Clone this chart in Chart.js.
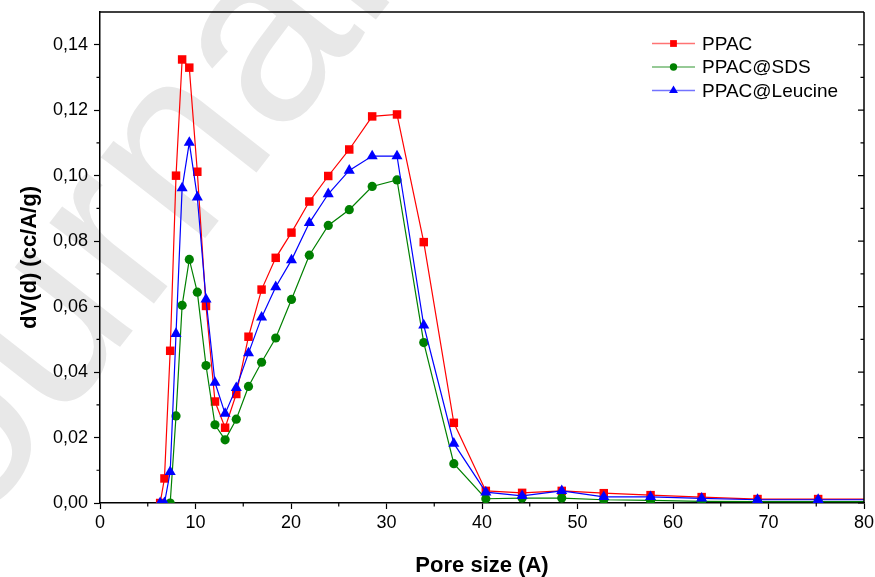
<!DOCTYPE html>
<html>
<head>
<meta charset="utf-8">
<script src="https://cdn.jsdelivr.net/npm/chart.js@4/dist/chart.umd.min.js"></script>
<style>
  html, body { margin: 0; padding: 0; background: #fff; }
  #wrap { width: 875px; height: 577px; }
</style>
</head>
<body>
<div id="wrap"><canvas id="c" width="875" height="577"></canvas></div>
<script>
// Pore size distribution (BJH-style dV(d) curves)
const poreSize = [6.3, 6.75, 7.35, 7.96, 8.6, 9.35, 10.19, 11.1, 12.04, 13.1, 14.27, 15.55, 16.92, 18.4, 20.05, 21.92, 23.9, 26.1, 28.5, 31.1, 33.9, 37.05, 40.4, 44.2, 48.35, 52.75, 57.65, 63.0, 68.85, 75.2, 82.0];
const ppac    = [0, 0.0075, 0.0465, 0.1, 0.1355, 0.133, 0.1012, 0.0602, 0.031, 0.023, 0.0333, 0.0508, 0.0652, 0.0749, 0.0826, 0.0921, 0.0999, 0.108, 0.1181, 0.1187, 0.0797, 0.0245, 0.0037, 0.0031, 0.0037, 0.003, 0.0024, 0.0018, 0.0012, 0.0012, 0.0012];
const ppacSDS = [null, null, 0, 0.0266, 0.0604, 0.0744, 0.0644, 0.042, 0.0239, 0.0193, 0.0256, 0.0356, 0.043, 0.0504, 0.0622, 0.0757, 0.0848, 0.0896, 0.0967, 0.0987, 0.049, 0.012, 0.0013, 0.0015, 0.0015, 0.001, 0.0008, 0.0005, 0.0004, 0.0004, 0.0004];
const ppacLeu = [0, 0, 0.0095, 0.0517, 0.0962, 0.1101, 0.0934, 0.0622, 0.0368, 0.0273, 0.0352, 0.0458, 0.0567, 0.066, 0.0742, 0.0856, 0.0944, 0.1016, 0.106, 0.106, 0.0543, 0.0182, 0.0033, 0.0022, 0.0037, 0.0019, 0.0019, 0.0014, 0.001, 0.001, 0.001];

const seriesNames = ['PPAC', 'PPAC@SDS', 'PPAC@Leucine'];
const xTicks = [0, 10, 20, 30, 40, 50, 60, 70, 80];
const yTicks = [0, 0.02, 0.04, 0.06, 0.08, 0.10, 0.12, 0.14];
const xMinor = [5, 15, 25, 35, 45, 55, 65, 75];
const yMinor = [0.01, 0.03, 0.05, 0.07, 0.09, 0.11, 0.13];
const xTitle = 'Pore size (A)';
const yTitle = 'dV(d) (cc/A/g)';
const watermarkText = 'Journal';

const FONT = 'Arial, "Liberation Sans", sans-serif';

function toPoints(ys) {
  const out = [];
  ys.forEach((y, i) => { if (y !== null) out.push({ x: poreSize[i], y: y }); });
  return out;
}

const styles = [
  { color: '#ff0000', legend: 'rgba(255,0,0,0.55)', point: 'rect', radius: 6 },
  { color: '#008000', legend: 'rgba(0,128,0,0.55)', point: 'circle', radius: 4.6 },
  { color: '#0000ff', legend: 'rgba(0,0,255,0.55)', point: 'triangle', radius: 6.4 }
];
const seriesData = [ppac, ppacSDS, ppacLeu];
const drawOrder = [2, 1, 0];

const datasets = seriesData.map((d, i) => ({
  label: seriesNames[i],
  data: toPoints(d),
  borderColor: styles[i].color,
  backgroundColor: styles[i].color,
  borderWidth: 1.2,
  pointStyle: styles[i].point,
  pointRadius: styles[i].radius,
  pointBorderWidth: 0,
  pointBackgroundColor: styles[i].color,
  tension: 0,
  order: drawOrder[i]
}));

// faint diagonal watermark behind everything
const watermark = {
  id: 'watermark',
  beforeDraw(chart) {
    const ctx = chart.ctx;
    ctx.save();
    ctx.fillStyle = '#fff';
    ctx.fillRect(0, 0, chart.width, chart.height);
    ctx.translate(-105, 635);
    ctx.rotate(-52 * Math.PI / 180);
    ctx.font = '250px ' + FONT;
    ctx.fillStyle = '#e8e8e8';
    ctx.textBaseline = 'alphabetic';
    ctx.fillText(watermarkText, 0, 0);
    ctx.restore();
  }
};

// frame, minor ticks, axis titles and legend
const decorations = {
  id: 'decorations',
  afterDraw(chart) {
    const ctx = chart.ctx;
    const a = chart.chartArea;
    const xs = chart.scales.x, ys = chart.scales.y;
    ctx.save();
    ctx.strokeStyle = '#000';
    ctx.lineWidth = 1.5;
    ctx.beginPath();
    ctx.moveTo(a.left, a.top); ctx.lineTo(a.right, a.top);
    ctx.moveTo(a.right, a.top); ctx.lineTo(a.right, a.bottom);
    ctx.stroke();

    ctx.lineWidth = 1.2;
    ctx.beginPath();
    xMinor.forEach(v => {
      const px = xs.getPixelForValue(v);
      ctx.moveTo(px, a.bottom); ctx.lineTo(px, a.bottom + 3.5);
    });
    yMinor.forEach(v => {
      const py = ys.getPixelForValue(v);
      ctx.moveTo(a.left - 3.5, py); ctx.lineTo(a.left, py);
      ctx.moveTo(a.right - 3.5, py); ctx.lineTo(a.right, py);
    });
    yTicks.forEach(v => {
      const py = ys.getPixelForValue(v);
      ctx.moveTo(a.right - 6, py); ctx.lineTo(a.right, py);
    });
    ctx.stroke();

    // axis titles
    ctx.fillStyle = '#000';
    ctx.font = 'bold 22px ' + FONT;
    ctx.textAlign = 'center';
    ctx.textBaseline = 'alphabetic';
    ctx.fillText(xTitle, (a.left + a.right) / 2, 572);
    ctx.save();
    ctx.translate(36, (a.top + a.bottom) / 2);
    ctx.rotate(-Math.PI / 2);
    ctx.fillText(yTitle, 0, 0);
    ctx.restore();

    // legend
    const rows = [43.5, 67, 90.5];
    ctx.font = '19px ' + FONT;
    ctx.textAlign = 'left';
    ctx.textBaseline = 'middle';
    seriesNames.forEach((name, i) => {
      const y = rows[i];
      ctx.strokeStyle = styles[i].legend;
      ctx.lineWidth = 1.4;
      ctx.beginPath();
      ctx.moveTo(652, y); ctx.lineTo(695, y);
      ctx.stroke();
      ctx.fillStyle = styles[i].color;
      Chart.helpers.drawPoint(ctx, { pointStyle: styles[i].point, radius: styles[i].radius * 0.8, borderWidth: 0, rotation: 0 }, 673.5, y);
      ctx.fillStyle = '#000';
      ctx.fillText(name, 702, y + 1);
    });
    ctx.restore();
  }
};

const tickFont = { family: FONT, size: 18 };

new Chart(document.getElementById('c'), {
  type: 'line',
  data: { datasets },
  options: {
    responsive: false,
    animation: false,
    devicePixelRatio: 1,
    layout: { padding: { top: 12, right: 11, left: 0, bottom: 0 } },
    plugins: { legend: { display: false }, tooltip: { enabled: false } },
    elements: { line: { fill: false } },
    scales: {
      x: {
        type: 'linear', min: 0, max: 80,
        afterBuildTicks(s) { s.ticks = xTicks.map(v => ({ value: v })); },
        ticks: { color: '#000', font: tickFont, padding: 3, maxRotation: 0, autoSkip: false, callback: v => String(v) },
        grid: { drawOnChartArea: false, drawTicks: true, tickLength: 6, tickColor: '#000', tickWidth: 1.2 },
        border: { display: true, color: '#000', width: 1.5 },
        afterFit(s) { s.height = 74; s.paddingLeft = 0; s.paddingRight = 0; }
      },
      y: {
        type: 'linear', min: 0, max: 0.15,
        afterBuildTicks(s) { s.ticks = yTicks.map(v => ({ value: v })); },
        ticks: { color: '#000', font: tickFont, padding: 6, autoSkip: false, callback: v => v.toFixed(2).replace('.', ',') },
        grid: { drawOnChartArea: false, drawTicks: true, tickLength: 6, tickColor: '#000', tickWidth: 1.2 },
        border: { display: true, color: '#000', width: 1.5 },
        afterFit(s) { s.width = 100; s.paddingTop = 0; s.paddingBottom = 0; }
      }
    }
  },
  plugins: [watermark, decorations]
});
</script>
</body>
</html>
